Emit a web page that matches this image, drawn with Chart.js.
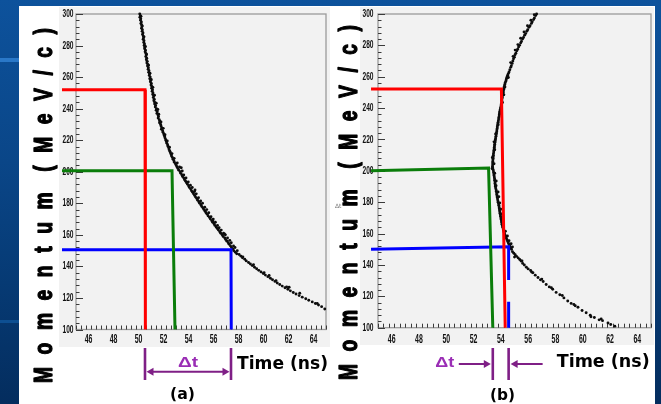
<!DOCTYPE html>
<html><head><meta charset="utf-8">
<script src="https://cdn.jsdelivr.net/npm/chart.js@4.4.1/dist/chart.umd.min.js"></script>
<style>
html,body{margin:0;padding:0;}
body{width:661px;height:404px;overflow:hidden;position:relative;background:linear-gradient(180deg,#0d529c 0%,#0a4688 40%,#063a74 70%,#042d5e 100%);}
#bar1{position:absolute;left:0;top:58px;width:19px;height:4px;background:#2a78c8;}
#bar2{position:absolute;left:0;top:320px;width:19px;height:3px;background:#0d4f92;}
#white{position:absolute;left:19px;top:6px;width:636px;height:398px;background:#fff;}
#ca{position:absolute;left:19px;top:6px;width:312px;height:398px;}
#cb{position:absolute;left:331px;top:6px;width:324px;height:398px;}
</style></head><body>
<div id="bar1"></div><div id="bar2"></div><div id="white"></div>
<canvas id="ca" width="312" height="398"></canvas>
<canvas id="cb" width="324" height="398"></canvas>
<script>
// ---- axes ----
const timeMin = 45, timeMax = 65;
const momMin = 100, momMax = 300;
const timeTicks = [46,48,50,52,54,56,58,60,62,64];
const momTicks = [100,120,140,160,180,200,220,240,260,280,300];
const timeMinorStep = 0.4, momMinorStep = 4;

// ---- guide lines [time, momentum] ----
const redA   = [[43.88,252],[50.52,252],[50.55,100]];
const greenA = [[43.88,200.6],[52.68,200.6],[52.92,100]];
const blueA  = [[43.88,150.6],[57.40,150.6],[57.42,100]];
const redB   = [[44.49,252.2],[54.04,252.2],[54.32,100]];
const greenB = [[44.49,200.1],[53.10,201.8],[53.41,100]];
const blueB  = [[44.49,150],[54.57,151.6],[54.57,130.4],[54.57,null],[54.57,116.6],[54.57,100]];

// ---- measured events [time ns, momentum MeV/c] ----
const curveA = [
[50.10,300],[50.15,299],[50.11,298],[50.18,297],[50.16,296],[50.23,295],[50.19,294],[50.25,293],[50.28,292],[50.24,291],[50.31,290],[50.29,289],[50.36,288],[50.32,287],[50.38,286],[50.41,285],[50.37,284],[50.44,283],[50.42,282],[50.48,281],[50.45,280],[50.51,279],[50.49,278],[50.56,277],[50.53,276],[50.59,275],[50.62,274],[50.58,273],[50.66,272],[50.63,271],[50.70,270],[50.67,269],[50.75,268],[50.72,267],[50.79,266],[50.77,265],[50.84,264],[50.81,263],[50.88,262],[50.86,261],[50.94,260],[50.90,259],[50.98,258],[50.95,257],[51.03,256],[51.00,255],[51.07,254],[51.05,253],[51.12,252],[51.09,251],[51.16,250],[51.14,249],[51.21,248],[51.18,247],[51.26,246],[51.23,245],[51.31,244],[51.29,243],[51.37,242],[51.34,241],[51.44,240],[51.41,239],[51.50,238],[51.47,237],[51.56,236],[51.60,235],[51.57,234],[51.66,233],[51.71,232],[51.68,231],[51.77,230],[51.80,229],[51.86,228],[51.83,227],[51.93,226],[51.96,225],[52.02,224],[52.06,223],[52.10,222],[52.14,221],[52.19,220],[52.23,219],[52.27,218],[52.33,217],[52.36,216],[52.42,215],[52.45,214],[52.51,213],[52.55,212],[52.61,211],[52.64,210],[52.71,209],[52.76,208],[52.83,207],[52.87,206],[52.95,205],[53.02,204],[53.08,203],[53.15,202],[53.22,201],
[50.20,298.5],[50.30,292.5],[50.44,285.5],[50.55,279.5],[50.64,274.5],[50.80,267.5],[50.92,262.5],[51.02,258.5],[51.15,253.5],[51.28,248.5],[51.42,243.5],[51.55,239.5],[51.62,236.5],[51.80,231.5],[51.98,227.5],[52.12,223.5],[52.30,219.5],[52.48,215.5],[52.68,211.5],[52.85,208.5],[53.10,205.5],[53.28,203],
[53.33,200],[53.38,199],[53.47,198],[53.52,197],[53.62,196],[53.68,195],[53.77,194],[53.84,193],[53.92,192],[54.01,191],[54.07,190],[54.17,189],[54.24,188],[54.33,187],[54.40,186],[54.49,185],[54.56,184],[54.66,183],[54.73,182],[54.82,181],[54.89,180],[54.99,179],[55.06,178],[55.16,177],[55.23,176],[55.33,175],[55.40,174],[55.50,173],[55.57,172],[55.68,171],[55.75,170],[55.86,169],[55.93,168],[56.04,167],[56.11,166],[56.21,165],[56.30,164],[56.39,163],[56.50,162],[56.58,161],[56.69,160],[56.77,159],[56.90,158],[56.97,157],[57.07,156],[57.18,155],[57.25,154],[57.36,153],[57.44,152],[57.56,151],[57.62,150],[57.75,149],[57.86,148],
[53.50,200.5],[53.62,198],[53.80,196],[53.98,193.5],[54.15,191.5],[54.30,190],[54.48,187.5],[54.62,186],[54.80,183.5],[54.97,181.5],[55.12,180],[55.30,177.5],[55.46,176],[55.62,174],[55.80,171.5],[55.98,170],[56.15,168],[56.32,166],[56.45,164.5],[56.62,163],[56.80,161],[56.95,160],[57.12,158],[57.30,156.5],[57.42,155],[57.60,153],[57.72,152],[57.90,150],[53.42,202.5],[54.52,188.5],[55.95,169],[56.88,160.5],
[58.05,147.5],[58.20,146.5],[58.32,145.5],[58.50,144.5],[58.62,143.5],[58.80,142.5],[58.95,141.5],[59.10,140.5],[59.28,139.5],[59.45,138.5],[59.62,137.5],[59.80,136.5],[59.98,135.5],[60.15,134.5],[60.35,133.5],[60.55,132.5],[60.72,131.5],[60.92,130.5],[61.10,129.5],[61.30,128.5],[61.50,127.5],[61.72,126.5],[61.95,125.5],[62.15,124.5],[62.38,123.5],[62.60,122.5],[62.85,121.5],[63.10,120.5],[63.38,119.5],[63.62,118.5],[63.90,117.5],[64.15,116.5],[64.40,115.5],[64.65,114.5],[64.90,113],[58.35,146],[59.20,141],[60.05,136],[61.00,131],[61.85,127],[62.90,123],[64.30,116.5],[60.45,134.2],[62.05,126.8]
];
const curveB = [
[56.62,300],[56.55,299],[56.46,297.5],[56.40,296.5],[56.30,295],[56.24,294],[56.14,292.5],[56.06,291.5],[55.97,290],[55.90,289],[55.82,287.5],[55.74,286.5],[55.66,285],[55.59,284],[55.51,282.5],[55.45,281.5],[55.37,280],[55.30,279],[55.23,277.5],[55.17,276.5],[55.10,275],[55.04,274],[54.99,272.5],[54.93,271.5],[54.88,270],[54.83,268.5],[54.77,267],[54.72,266],[54.66,264.5],[54.60,263],[54.55,262],
[56.45,299.5],[56.20,296],[55.95,292.5],[55.70,288.5],[55.45,284.5],[55.25,280.5],[55.05,277],[54.90,273],[54.72,269],
[54.50,261],[54.46,260],[54.42,259],[54.39,258],[54.36,257],[54.31,256],[54.29,255],[54.26,254],[54.24,253],[54.21,252],[54.19,251],[54.18,250],[54.14,249],[54.13,248],[54.10,247],[54.09,246],[54.06,245],[54.08,244],[54.04,243],[54.02,242],[54.01,241],[53.97,240],[53.95,239],[53.93,238],[53.91,237],[53.89,236],[53.88,235],[53.85,234],[53.84,233],[53.82,232],[53.80,231],[53.78,230],[53.77,229],[53.74,228],[53.73,227],[53.71,226],[53.70,225],[53.67,224],[53.66,223],[53.64,222],[53.62,221],[53.60,220],[53.59,219],[53.57,218],[53.55,217],[53.54,216],[53.52,215],[53.51,214],[53.49,213],[53.48,212],[53.46,211],[53.45,210],[53.44,209],[53.43,208],[53.42,207],[53.41,206],[53.40,205],[53.41,204],[53.39,203],[53.40,202],[53.42,201],[53.45,200],[53.47,199],[53.49,198],[53.50,197],[53.52,196],[53.54,195],[53.55,194],[53.57,193],[53.57,192],[53.59,191],[53.60,190],[53.62,189],[53.65,188],[53.67,187],[53.69,186],[53.70,185],[53.72,184],[53.74,183],[53.76,182],[53.78,181],[53.80,180],[53.83,179],[53.85,178],[53.87,177],[53.89,176],[53.90,175],[53.92,174],[53.94,173],[53.96,172],[53.98,171],[54.00,170],[54.02,169],[54.04,168],[54.06,167],[54.08,166],[54.11,165],[54.14,164],[54.17,163],[54.20,162],[54.23,161],[54.27,160],[54.31,159],[54.36,158],[54.40,157],[54.45,156],[54.50,155],[54.55,154],[54.60,153],[54.66,152],[54.72,151],[54.78,150],
[54.55,259.5],[54.30,253.5],[54.22,248.5],[54.12,243.5],[53.92,236.5],[53.80,229.5],[53.62,223.5],[53.50,218.5],[53.55,213.5],[53.38,208.5],[53.50,204.5],[53.36,201.5],[53.55,198.5],[53.66,193.5],[53.65,190.5],[53.80,186.5],[53.85,183.5],[53.92,179.5],[54.00,175.5],[54.05,172.5],[54.12,168.5],[54.20,165.5],[54.33,161.5],[54.48,158.5],[54.60,155.5],[54.75,153.5],[54.85,151.5],
[54.85,148.5],[54.95,147.5],[55.05,146.5],[55.15,145.5],[55.27,144.5],[55.38,143.5],[55.48,142.5],[55.60,141],[55.72,140],[55.87,138.5],[56.00,137.5],[56.18,136.5],[56.35,135],[56.52,133.5],[56.72,132],[56.90,130.5],[57.10,129.5],[57.32,127.5],[57.55,126],[57.80,124.5],[58.05,122.5],[58.32,121],[58.62,119],[58.90,117],[59.15,115.5],[59.45,114],[59.65,113],[59.95,111],[60.25,109.5],[60.55,108],[60.85,106.5],[61.20,105],[61.45,104.5],[61.85,103],[62.05,102],[62.35,101],[55.00,145],[55.55,142.5],[56.25,135.5],[57.00,131],[57.70,125.5],[58.50,120.5],[59.35,114.8],[60.60,107],[61.35,105.5]
];

const toXY = a => a.map(p => ({x: p[0], y: p[1]}));
const TICK_FONT = '"Liberation Sans", Arial, sans-serif';

function fitText(ctx, text, left, cy, width, font, color) {
  ctx.save();
  ctx.font = font;
  const w = ctx.measureText(text).width;
  ctx.translate(left, cy);
  ctx.scale(width / w, 1);
  ctx.fillStyle = color;
  ctx.textAlign = 'left';
  ctx.textBaseline = 'middle';
  ctx.fillText(text, 0, 0);
  ctx.restore();
}
function centerText(ctx, text, cx, cy, width, font, color) {
  fitText(ctx, text, cx - width / 2, cy, width, font, color);
}
function vTitle(ctx, baseX, bottomY, topY) {
  const parts = ['M','o','m','e','n','t','u','m','(','M','e','V','/','c',')'];
  const sx = 0.74, extra = 8;
  ctx.save();
  ctx.font = 'bold 26px "Liberation Sans", Arial, sans-serif';
  const ws = parts.map(c => ctx.measureText(c).width * sx);
  const total = ws.reduce((a, b) => a + b, 0);
  const gap = (bottomY - topY - total - extra) / (parts.length - 1);
  ctx.translate(baseX, bottomY);
  ctx.rotate(-Math.PI / 2);
  ctx.fillStyle = '#000';
  ctx.strokeStyle = '#000';
  ctx.lineWidth = 1.3;
  ctx.lineJoin = 'round';
  ctx.textBaseline = 'alphabetic';
  ctx.textAlign = 'left';
  let u = 0;
  parts.forEach((c, i) => {
    ctx.save(); ctx.translate(u, 0); ctx.scale(sx, 1);
    ctx.fillText(c, 0, 0); ctx.strokeText(c, 0, 0); ctx.restore();
    u += ws[i] + gap + (i === 7 ? extra : 0);
  });
  ctx.restore();
}
function arrowHead(ctx, tipX, y, dir) {
  ctx.beginPath();
  ctx.moveTo(tipX, y);
  ctx.lineTo(tipX - dir * 7, y - 4);
  ctx.lineTo(tipX - dir * 7, y + 4);
  ctx.closePath(); ctx.fill();
}

const decor = {
  id: 'decor',
  beforeDraw(chart, args, o) {
    const ctx = chart.ctx;
    ctx.save();
    ctx.fillStyle = '#ffffff'; ctx.fillRect(0, 0, chart.width, chart.height);
    ctx.fillStyle = '#f2f2f2'; ctx.fillRect(o.grey[0], o.grey[1], o.grey[2], o.grey[3]);
    ctx.restore();
  },
  beforeDatasetsDraw(chart, args, o) {
    const ctx = chart.ctx, a = chart.chartArea;
    const xs = chart.scales.x, ys = chart.scales.y;
    ctx.save();
    ctx.strokeStyle = '#9a9a9a'; ctx.lineWidth = 1.3;
    ctx.strokeRect(a.left, a.top, a.right - a.left, a.bottom - a.top);
    ctx.strokeStyle = '#3a3a3a'; ctx.lineWidth = 1;
    ctx.beginPath();
    for (let k = 0; timeMin + k * timeMinorStep <= timeMax + 1e-9; k++) {
      const v = timeMin + k * timeMinorStep;
      const px = Math.round(xs.getPixelForValue(v)) + 0.5;
      const major = timeTicks.some(t => Math.abs(t - v) < 1e-6);
      ctx.moveTo(px, a.bottom); ctx.lineTo(px, a.bottom - (major ? 8 : 4));
    }
    for (let k = 0; momMin + k * momMinorStep <= momMax + 1e-9; k++) {
      const v = momMin + k * momMinorStep;
      const py = Math.round(ys.getPixelForValue(v)) + 0.5;
      const major = momTicks.includes(v);
      ctx.moveTo(a.left, py); ctx.lineTo(a.left + (major ? 7 : 3.5), py);
    }
    ctx.stroke();
    ctx.fillStyle = '#111';
    ctx.font = 'bold 12px ' + TICK_FONT;
    ctx.textBaseline = 'middle';
    timeTicks.forEach(v => {
      const px = xs.getPixelForValue(v);
      ctx.save(); ctx.translate(px, o.xLabelY); ctx.scale(0.58, 1);
      ctx.textAlign = 'center'; ctx.fillText(String(v), 0, 0); ctx.restore();
    });
    ctx.font = 'bold 11px ' + TICK_FONT;
    momTicks.forEach(v => {
      const py = ys.getPixelForValue(v);
      ctx.save(); ctx.translate(a.left - o.yLabelGap, py); ctx.scale(0.6, 1);
      ctx.textAlign = 'right'; ctx.fillText(String(v), 0, 0); ctx.restore();
    });
    ctx.restore();
  },
  afterDraw(chart, args, o) {
    const ctx = chart.ctx, xs = chart.scales.x;
    vTitle(ctx, o.titleX, o.titleBottom, o.titleTop);
    fitText(ctx, 'Time (ns)', o.timeLeft, o.timeY, o.timeW, 'bold 17px "DejaVu Sans", sans-serif', '#000');
    centerText(ctx, o.panel, o.panelX, o.panelY, 25, 'bold 16px "DejaVu Sans", sans-serif', '#000');
    const x1 = xs.getPixelForValue(o.dtFrom), x2 = xs.getPixelForValue(o.dtTo);
    ctx.save();
    ctx.strokeStyle = '#7f1f86'; ctx.fillStyle = '#7f1f86';
    ctx.lineWidth = 2.6;
    ctx.beginPath();
    ctx.moveTo(x1, 342); ctx.lineTo(x1, 374);
    ctx.moveTo(x2, 342); ctx.lineTo(x2, 374);
    ctx.stroke();
    ctx.lineWidth = 2;
    if (o.dtInside) {
      const y = 365.7;
      ctx.beginPath(); ctx.moveTo(x1 + 5, y); ctx.lineTo(x2 - 5, y); ctx.stroke();
      arrowHead(ctx, x1 + 1.5, y, -1); arrowHead(ctx, x2 - 1.5, y, 1);
      ctx.restore();
      centerText(ctx, 'Δt', (x1 + x2) / 2, 357, 20, 'bold 15px "Liberation Sans", Arial, sans-serif', '#9a2db5');
    } else {
      const y = 358;
      ctx.beginPath(); ctx.moveTo(x1 - 34, y); ctx.lineTo(x1 - 6, y);
      ctx.moveTo(x2 + 34, y); ctx.lineTo(x2 + 6, y); ctx.stroke();
      arrowHead(ctx, x1 - 2, y, 1); arrowHead(ctx, x2 + 2, y, -1);
      ctx.restore();
      centerText(ctx, 'Δt', x1 - 48, 356.5, 19, 'bold 15px "Liberation Sans", Arial, sans-serif', '#9a2db5');
      ctx.save(); ctx.font = '6px "DejaVu Sans", sans-serif'; ctx.fillStyle = '#777';
      ctx.textBaseline = 'middle'; ctx.fillText('Δt', 4, 200); ctx.restore();
    }
  }
};

function lineDs(data, color) {
  return {data: toXY(data), showLine: true, borderColor: color, borderWidth: 3,
    pointRadius: 0, fill: false, clip: false, spanGaps: false, tension: 0,
    borderCapStyle: 'butt', borderJoinStyle: 'miter'};
}
function makeChart(id, lines, curve, cfg) {
  return new Chart(document.getElementById(id), {
    type: 'scatter',
    data: {datasets: [
      lineDs(lines[0], '#ff0000'), lineDs(lines[1], '#0a7d0a'), lineDs(lines[2], '#0000ff'),
      {data: toXY(curve), pointRadius: 1.45, pointStyle: 'circle', pointBorderWidth: 0,
       pointBackgroundColor: '#0c0c0c', showLine: false, clip: false}
    ]},
    options: {
      responsive: false, animation: false, events: [],
      layout: {padding: {left: 0, top: cfg.padTop, right: cfg.padRight, bottom: 0}},
      plugins: {legend: {display: false}, tooltip: {enabled: false}, decor: cfg.decor},
      scales: {
        x: {type: 'linear', min: timeMin, max: timeMax,
            ticks: {display: false}, grid: {display: false}, border: {display: false},
            afterFit: s => { s.height = cfg.xHeight; }},
        y: {type: 'linear', min: momMin, max: momMax,
            ticks: {display: false}, grid: {display: false}, border: {display: false},
            afterFit: s => { s.width = cfg.yWidth; }}
      }
    },
    plugins: [decor]
  });
}

makeChart('ca', [redA, greenA, blueA], curveA, {
  padTop: 8, padRight: 5, xHeight: 74.5, yWidth: 57,
  decor: {grey: [40, 1, 271, 340], xLabelY: 334, yLabelGap: 2.5,
    titleX: 33, titleBottom: 377, titleTop: 22,
    timeLeft: 218, timeY: 359, timeW: 91, panel: '(a)', panelX: 163.5, panelY: 389,
    dtFrom: redA[1][0], dtTo: blueA[1][0], dtInside: true}
});
makeChart('cb', [redB, greenB, blueB], curveB, {
  padTop: 8, padRight: 1, xHeight: 76.3, yWidth: 47,
  decor: {grey: [29, 1, 294, 338], xLabelY: 334, yLabelGap: 4.5,
    titleX: 26, titleBottom: 374, titleTop: 19,
    timeLeft: 225.7, timeY: 357, timeW: 93, panel: '(b)', panelX: 171.5, panelY: 390,
    dtFrom: greenB[2][0], dtTo: blueB[1][0], dtInside: false}
});
</script>
</body></html>
